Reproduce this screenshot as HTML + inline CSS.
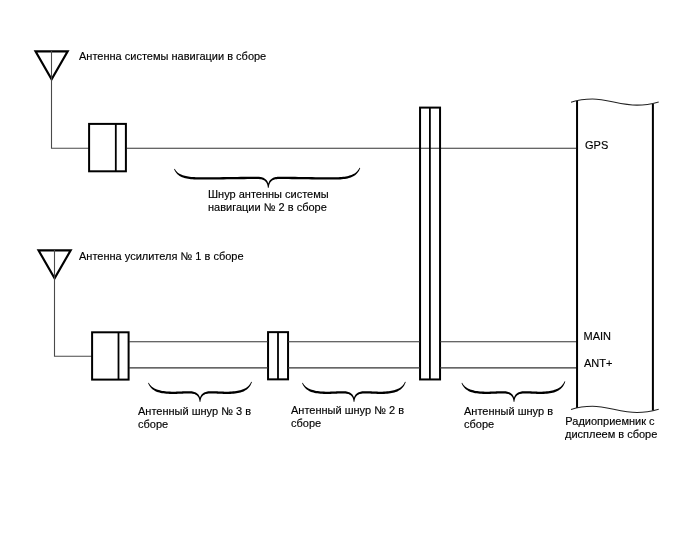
<!DOCTYPE html>
<html><head><meta charset="utf-8">
<style>
html,body{margin:0;padding:0;background:#fff;}
svg{display:block;}
svg text{font-family:"Liberation Sans",sans-serif;font-size:11px;fill:#000;stroke:#000;stroke-width:0.15px;}
</style></head>
<body>
<svg width="688" height="560" viewBox="0 0 688 560">
<rect width="688" height="560" fill="#fff"/>
<g fill="none" stroke="#000" stroke-linejoin="miter">
  <!-- antenna 1 -->
  <path d="M35.5,51.3 L67.7,51.3 L51.6,79.4 Z" stroke-width="2.15"/>
  <path d="M51.5,51 V148.3 H89" stroke="#4a4a4a" stroke-width="1.1"/>
  <!-- box 1 -->
  <rect x="89.1" y="123.9" width="36.8" height="47.4" stroke-width="2"/>
  <line x1="115.8" y1="124" x2="115.8" y2="171" stroke-width="1.8"/>
  <!-- GPS line -->
  <line x1="127" y1="148.3" x2="576" y2="148.3" stroke="#333" stroke-width="1.1"/>
  <!-- tall box -->
  <rect x="420.05" y="107.6" width="20" height="271.85" stroke-width="2"/>
  <line x1="429.9" y1="108" x2="429.9" y2="379" stroke-width="1.8"/>
  <!-- antenna 2 -->
  <path d="M38.5,250.3 L70.7,250.3 L54.6,278.4 Z" stroke-width="2.15"/>
  <path d="M54.5,250 V356.3 H92" stroke="#4a4a4a" stroke-width="1.1"/>
  <!-- box 2 -->
  <rect x="92.1" y="332.3" width="36.5" height="47.3" stroke-width="2"/>
  <line x1="118.5" y1="332.6" x2="118.5" y2="379.4" stroke-width="1.8"/>
  <!-- box 3 -->
  <rect x="268.05" y="332.15" width="20" height="47.2" stroke-width="2"/>
  <line x1="278" y1="332.4" x2="278" y2="379.1" stroke-width="1.8"/>
  <!-- double lines -->
  <g stroke="#333" stroke-width="1.1">
    <line x1="129" y1="341.8" x2="268" y2="341.8"/>
    <line x1="129" y1="367.9" x2="268" y2="367.9"/>
    <line x1="288" y1="341.8" x2="420" y2="341.8"/>
    <line x1="288" y1="367.9" x2="420" y2="367.9"/>
    <line x1="440" y1="341.8" x2="577" y2="341.8"/>
    <line x1="440" y1="367.9" x2="577" y2="367.9"/>
  </g>
  <!-- receiver -->
  <line x1="577.05" y1="101" x2="577.05" y2="408" stroke-width="2"/>
  <line x1="652.9" y1="104" x2="652.9" y2="410.4" stroke-width="2"/>
  <path d="M571,102.2 C578,100 585,99 592.5,99 C607,99 621,105.1 637,105.1 C646,105.1 652.5,103.6 658.7,101.9" stroke="#222" stroke-width="1.05"/>
  <path d="M571,409.5 C578,407.3 585,406.3 592.5,406.3 C607,406.3 621,412.5 637,412.5 C646,412.5 652.5,411 658.7,409.3" stroke="#222" stroke-width="1.05"/>
</g>
<g fill="#000" stroke="none">
  <path d="M174.09,169.15 L174.43,170.00 L174.84,170.81 L175.29,171.60 L175.80,172.36 L176.36,173.08 L176.99,173.77 L177.67,174.43 L178.41,175.05 L179.22,175.63 L180.09,176.18 L181.02,176.69 L182.02,177.17 L183.08,177.61 L184.22,177.97 L185.43,178.28 L186.70,178.55 L188.03,178.79 L189.44,179.00 L190.91,179.17 L192.46,179.31 L194.08,179.41 L195.77,179.49 L197.55,179.54 L199.40,179.55 L203.68,179.54 L207.83,179.53 L211.86,179.50 L215.79,179.47 L219.61,179.43 L223.33,179.39 L226.97,179.35 L230.54,179.30 L234.03,179.25 L237.47,179.21 L240.85,179.17 L244.19,179.13 L247.50,179.10 L250.78,179.07 L254.05,179.06 L257.30,179.05 L258.16,179.06 L258.99,179.09 L259.79,179.15 L260.56,179.24 L261.29,179.37 L262.00,179.53 L262.66,179.74 L263.30,179.98 L263.89,180.27 L264.45,180.61 L264.97,181.00 L265.46,181.44 L265.92,181.96 L266.33,182.54 L266.71,183.20 L267.04,183.94 L267.33,184.77 L267.56,185.69 L267.74,186.70 L267.85,187.83 L268.75,187.77 L268.74,186.61 L268.65,185.52 L268.50,184.49 L268.28,183.53 L267.98,182.64 L267.63,181.82 L267.20,181.06 L266.71,180.36 L266.15,179.73 L265.54,179.17 L264.87,178.67 L264.16,178.24 L263.41,177.87 L262.61,177.56 L261.79,177.30 L260.94,177.10 L260.06,176.95 L259.16,176.84 L258.24,176.77 L257.30,176.75 L254.04,176.76 L250.77,176.77 L247.48,176.80 L244.17,176.83 L240.83,176.87 L237.44,176.91 L234.00,176.95 L230.51,177.00 L226.94,177.05 L223.30,177.09 L219.58,177.13 L215.76,177.17 L211.85,177.20 L207.82,177.23 L203.67,177.24 L199.40,177.25 L197.59,177.24 L195.85,177.19 L194.21,177.12 L192.64,177.01 L191.15,176.88 L189.74,176.72 L188.40,176.52 L187.14,176.30 L185.95,176.04 L184.84,175.76 L183.78,175.46 L182.78,175.17 L181.84,174.85 L180.96,174.49 L180.13,174.10 L179.35,173.68 L178.62,173.22 L177.94,172.72 L177.30,172.18 L176.71,171.60 L176.15,170.98 L175.64,170.32 L175.16,169.61 L174.71,168.85Z M359.58,167.66 L359.13,168.53 L358.65,169.34 L358.13,170.10 L357.57,170.81 L356.97,171.47 L356.33,172.09 L355.64,172.66 L354.91,173.19 L354.13,173.67 L353.30,174.12 L352.42,174.53 L351.48,174.90 L350.48,175.23 L349.43,175.57 L348.32,175.89 L347.13,176.18 L345.88,176.43 L344.54,176.65 L343.14,176.83 L341.65,176.98 L340.09,177.10 L338.44,177.18 L336.71,177.23 L334.90,177.25 L330.80,177.24 L326.82,177.23 L322.95,177.20 L319.19,177.17 L315.52,177.13 L311.95,177.09 L308.45,177.05 L305.03,177.00 L301.67,176.95 L298.37,176.91 L295.12,176.87 L291.91,176.83 L288.73,176.80 L285.57,176.77 L282.43,176.76 L279.30,176.75 L278.36,176.77 L277.44,176.84 L276.54,176.95 L275.66,177.10 L274.81,177.30 L273.99,177.56 L273.19,177.87 L272.44,178.24 L271.73,178.67 L271.06,179.17 L270.45,179.73 L269.89,180.36 L269.40,181.06 L268.97,181.82 L268.62,182.64 L268.32,183.53 L268.10,184.49 L267.95,185.52 L267.86,186.61 L267.85,187.77 L268.75,187.83 L268.86,186.70 L269.04,185.69 L269.27,184.77 L269.56,183.94 L269.89,183.20 L270.27,182.54 L270.68,181.96 L271.14,181.44 L271.63,181.00 L272.15,180.61 L272.71,180.27 L273.30,179.98 L273.94,179.74 L274.60,179.53 L275.31,179.37 L276.04,179.24 L276.81,179.15 L277.61,179.09 L278.44,179.06 L279.30,179.05 L282.42,179.06 L285.56,179.07 L288.71,179.10 L291.88,179.13 L295.09,179.17 L298.34,179.21 L301.64,179.25 L305.00,179.30 L308.42,179.35 L311.92,179.39 L315.50,179.43 L319.16,179.47 L322.93,179.50 L326.80,179.53 L330.79,179.54 L334.90,179.55 L336.76,179.53 L338.53,179.48 L340.23,179.40 L341.85,179.28 L343.40,179.12 L344.88,178.92 L346.29,178.69 L347.63,178.42 L348.91,178.11 L350.12,177.76 L351.26,177.35 L352.32,176.87 L353.32,176.34 L354.25,175.77 L355.12,175.15 L355.93,174.50 L356.67,173.81 L357.34,173.08 L357.96,172.32 L358.52,171.51 L359.03,170.67 L359.48,169.79 L359.87,168.88 L360.22,167.94Z"/>
  <path d="M148.08,382.95 L148.43,383.84 L148.83,384.70 L149.28,385.54 L149.79,386.33 L150.35,387.10 L150.97,387.83 L151.65,388.52 L152.39,389.18 L153.20,389.79 L154.07,390.37 L155.00,390.91 L156.00,391.42 L157.06,391.88 L158.20,392.27 L159.41,392.60 L160.68,392.89 L162.02,393.14 L163.43,393.36 L164.91,393.54 L166.45,393.69 L168.07,393.81 L169.77,393.89 L171.55,393.93 L173.40,393.95 L174.56,393.94 L175.69,393.93 L176.79,393.90 L177.85,393.87 L178.89,393.83 L179.89,393.79 L180.88,393.75 L181.84,393.70 L182.78,393.65 L183.71,393.61 L184.62,393.56 L185.51,393.53 L186.39,393.50 L187.27,393.47 L188.14,393.46 L188.99,393.45 L189.86,393.46 L190.69,393.49 L191.49,393.55 L192.26,393.64 L193.00,393.76 L193.71,393.92 L194.38,394.12 L195.01,394.35 L195.61,394.63 L196.17,394.95 L196.69,395.31 L197.18,395.73 L197.63,396.21 L198.04,396.75 L198.42,397.36 L198.75,398.05 L199.03,398.81 L199.26,399.66 L199.44,400.59 L199.55,401.63 L200.45,401.57 L200.44,400.50 L200.35,399.47 L200.20,398.51 L199.97,397.61 L199.68,396.77 L199.31,395.99 L198.88,395.27 L198.39,394.61 L197.83,394.02 L197.22,393.48 L196.56,393.01 L195.85,392.59 L195.09,392.24 L194.30,391.94 L193.48,391.69 L192.63,391.49 L191.76,391.34 L190.86,391.24 L189.94,391.17 L189.01,391.15 L188.11,391.16 L187.22,391.17 L186.32,391.20 L185.42,391.23 L184.51,391.27 L183.60,391.31 L182.67,391.35 L181.73,391.40 L180.77,391.45 L179.79,391.49 L178.80,391.53 L177.77,391.57 L176.73,391.60 L175.65,391.63 L174.54,391.64 L173.40,391.65 L171.59,391.63 L169.86,391.59 L168.21,391.51 L166.64,391.40 L165.16,391.26 L163.75,391.08 L162.41,390.88 L161.15,390.64 L159.97,390.37 L158.85,390.06 L157.80,389.75 L156.80,389.43 L155.86,389.09 L154.98,388.71 L154.15,388.29 L153.37,387.83 L152.64,387.34 L151.96,386.80 L151.32,386.23 L150.72,385.61 L150.16,384.94 L149.64,384.23 L149.16,383.47 L148.72,382.65Z M251.28,381.66 L250.83,382.57 L250.35,383.41 L249.83,384.21 L249.27,384.95 L248.67,385.64 L248.02,386.28 L247.33,386.88 L246.60,387.43 L245.82,387.93 L244.99,388.40 L244.10,388.82 L243.16,389.21 L242.16,389.56 L241.12,389.91 L240.01,390.24 L238.82,390.54 L237.57,390.80 L236.24,391.03 L234.83,391.22 L233.35,391.37 L231.78,391.50 L230.14,391.58 L228.41,391.63 L226.60,391.65 L225.46,391.64 L224.35,391.63 L223.27,391.60 L222.23,391.57 L221.20,391.53 L220.21,391.49 L219.23,391.45 L218.27,391.40 L217.33,391.35 L216.40,391.31 L215.49,391.27 L214.58,391.23 L213.68,391.20 L212.78,391.17 L211.89,391.16 L210.99,391.15 L210.06,391.17 L209.14,391.24 L208.24,391.34 L207.37,391.49 L206.52,391.69 L205.70,391.94 L204.91,392.24 L204.15,392.59 L203.44,393.01 L202.78,393.48 L202.17,394.02 L201.61,394.61 L201.12,395.27 L200.69,395.99 L200.32,396.77 L200.03,397.61 L199.80,398.51 L199.65,399.47 L199.56,400.50 L199.55,401.57 L200.45,401.63 L200.56,400.59 L200.74,399.66 L200.97,398.81 L201.25,398.05 L201.58,397.36 L201.96,396.75 L202.37,396.21 L202.82,395.73 L203.31,395.31 L203.83,394.95 L204.39,394.63 L204.99,394.35 L205.62,394.12 L206.29,393.92 L207.00,393.76 L207.74,393.64 L208.51,393.55 L209.31,393.49 L210.14,393.46 L211.01,393.45 L211.86,393.46 L212.73,393.47 L213.61,393.50 L214.49,393.53 L215.38,393.56 L216.29,393.61 L217.22,393.65 L218.16,393.70 L219.12,393.75 L220.11,393.79 L221.11,393.83 L222.15,393.87 L223.21,393.90 L224.31,393.93 L225.44,393.94 L226.60,393.95 L228.46,393.93 L230.23,393.88 L231.93,393.79 L233.56,393.67 L235.11,393.50 L236.59,393.30 L238.00,393.06 L239.34,392.78 L240.62,392.46 L241.83,392.10 L242.97,391.67 L244.04,391.16 L245.03,390.62 L245.97,390.03 L246.83,389.40 L247.64,388.72 L248.38,388.01 L249.05,387.25 L249.67,386.46 L250.23,385.63 L250.73,384.76 L251.18,383.85 L251.58,382.91 L251.92,381.94Z"/>
  <path d="M302.08,382.95 L302.43,383.84 L302.83,384.70 L303.28,385.54 L303.79,386.33 L304.35,387.10 L304.97,387.83 L305.65,388.52 L306.39,389.18 L307.20,389.79 L308.07,390.37 L309.00,390.91 L310.00,391.42 L311.06,391.88 L312.20,392.27 L313.41,392.60 L314.68,392.89 L316.02,393.14 L317.43,393.36 L318.91,393.54 L320.45,393.69 L322.07,393.81 L323.77,393.89 L325.55,393.93 L327.40,393.95 L328.56,393.94 L329.69,393.93 L330.79,393.90 L331.85,393.87 L332.89,393.83 L333.89,393.79 L334.88,393.75 L335.84,393.70 L336.78,393.65 L337.71,393.61 L338.62,393.56 L339.51,393.53 L340.39,393.50 L341.27,393.47 L342.14,393.46 L342.99,393.45 L343.86,393.46 L344.69,393.49 L345.49,393.55 L346.26,393.64 L347.00,393.76 L347.71,393.92 L348.38,394.12 L349.01,394.35 L349.61,394.63 L350.17,394.95 L350.69,395.31 L351.18,395.73 L351.63,396.21 L352.04,396.75 L352.42,397.36 L352.75,398.05 L353.03,398.81 L353.26,399.66 L353.44,400.59 L353.55,401.63 L354.45,401.57 L354.44,400.50 L354.35,399.47 L354.20,398.51 L353.97,397.61 L353.68,396.77 L353.31,395.99 L352.88,395.27 L352.39,394.61 L351.83,394.02 L351.22,393.48 L350.56,393.01 L349.85,392.59 L349.09,392.24 L348.30,391.94 L347.48,391.69 L346.63,391.49 L345.76,391.34 L344.86,391.24 L343.94,391.17 L343.01,391.15 L342.11,391.16 L341.22,391.17 L340.32,391.20 L339.42,391.23 L338.51,391.27 L337.60,391.31 L336.67,391.35 L335.73,391.40 L334.77,391.45 L333.79,391.49 L332.80,391.53 L331.77,391.57 L330.73,391.60 L329.65,391.63 L328.54,391.64 L327.40,391.65 L325.59,391.63 L323.86,391.59 L322.21,391.51 L320.64,391.40 L319.16,391.26 L317.75,391.08 L316.41,390.88 L315.15,390.64 L313.97,390.37 L312.85,390.06 L311.80,389.75 L310.80,389.43 L309.86,389.09 L308.98,388.71 L308.15,388.29 L307.37,387.83 L306.64,387.34 L305.96,386.80 L305.32,386.23 L304.72,385.61 L304.16,384.94 L303.64,384.23 L303.16,383.47 L302.72,382.65Z M405.08,381.66 L404.63,382.57 L404.15,383.41 L403.63,384.21 L403.07,384.95 L402.47,385.64 L401.82,386.28 L401.13,386.88 L400.40,387.43 L399.62,387.93 L398.79,388.40 L397.90,388.82 L396.96,389.21 L395.96,389.56 L394.92,389.91 L393.81,390.24 L392.62,390.54 L391.37,390.80 L390.04,391.03 L388.63,391.22 L387.15,391.37 L385.58,391.50 L383.94,391.58 L382.21,391.63 L380.40,391.65 L379.27,391.64 L378.18,391.63 L377.12,391.60 L376.08,391.57 L375.08,391.53 L374.09,391.49 L373.13,391.45 L372.18,391.40 L371.25,391.35 L370.33,391.31 L369.43,391.27 L368.53,391.23 L367.65,391.20 L366.76,391.17 L365.88,391.16 L364.99,391.15 L364.06,391.17 L363.14,391.24 L362.24,391.34 L361.37,391.49 L360.52,391.69 L359.70,391.94 L358.91,392.24 L358.15,392.59 L357.44,393.01 L356.78,393.48 L356.17,394.02 L355.61,394.61 L355.12,395.27 L354.69,395.99 L354.32,396.77 L354.03,397.61 L353.80,398.51 L353.65,399.47 L353.56,400.50 L353.55,401.57 L354.45,401.63 L354.56,400.59 L354.74,399.66 L354.97,398.81 L355.25,398.05 L355.58,397.36 L355.96,396.75 L356.37,396.21 L356.82,395.73 L357.31,395.31 L357.83,394.95 L358.39,394.63 L358.99,394.35 L359.62,394.12 L360.29,393.92 L361.00,393.76 L361.74,393.64 L362.51,393.55 L363.31,393.49 L364.14,393.46 L365.01,393.45 L365.85,393.46 L366.71,393.47 L367.57,393.50 L368.44,393.53 L369.33,393.56 L370.22,393.61 L371.14,393.65 L372.07,393.70 L373.02,393.75 L373.99,393.79 L374.98,393.83 L376.01,393.87 L377.06,393.90 L378.14,393.93 L379.25,393.94 L380.40,393.95 L382.26,393.93 L384.03,393.88 L385.73,393.79 L387.36,393.67 L388.91,393.50 L390.39,393.30 L391.80,393.06 L393.14,392.78 L394.42,392.46 L395.63,392.10 L396.77,391.67 L397.84,391.16 L398.83,390.62 L399.77,390.03 L400.63,389.40 L401.44,388.72 L402.18,388.01 L402.85,387.25 L403.47,386.46 L404.03,385.63 L404.53,384.76 L404.98,383.85 L405.38,382.91 L405.72,381.94Z"/>
  <path d="M461.48,382.95 L461.83,383.84 L462.23,384.70 L462.68,385.54 L463.19,386.33 L463.75,387.10 L464.37,387.83 L465.05,388.52 L465.79,389.18 L466.60,389.79 L467.47,390.37 L468.40,390.91 L469.40,391.42 L470.46,391.88 L471.60,392.27 L472.81,392.60 L474.08,392.89 L475.42,393.14 L476.83,393.36 L478.31,393.54 L479.85,393.69 L481.47,393.81 L483.17,393.89 L484.95,393.93 L486.80,393.95 L488.01,393.94 L489.18,393.93 L490.31,393.90 L491.42,393.87 L492.49,393.83 L493.54,393.79 L494.56,393.75 L495.56,393.70 L496.54,393.65 L497.50,393.61 L498.44,393.56 L499.37,393.53 L500.29,393.50 L501.20,393.47 L502.10,393.46 L502.99,393.45 L503.86,393.46 L504.69,393.49 L505.49,393.55 L506.26,393.64 L507.00,393.76 L507.71,393.92 L508.38,394.12 L509.01,394.35 L509.61,394.63 L510.17,394.95 L510.69,395.31 L511.18,395.73 L511.63,396.21 L512.04,396.75 L512.42,397.36 L512.75,398.05 L513.03,398.81 L513.26,399.66 L513.44,400.59 L513.55,401.63 L514.45,401.57 L514.44,400.50 L514.35,399.47 L514.20,398.51 L513.97,397.61 L513.68,396.77 L513.31,395.99 L512.88,395.27 L512.39,394.61 L511.83,394.02 L511.22,393.48 L510.56,393.01 L509.85,392.59 L509.09,392.24 L508.30,391.94 L507.48,391.69 L506.63,391.49 L505.76,391.34 L504.86,391.24 L503.94,391.17 L503.01,391.15 L502.07,391.16 L501.15,391.17 L500.22,391.20 L499.29,391.23 L498.35,391.27 L497.39,391.31 L496.43,391.35 L495.45,391.40 L494.46,391.45 L493.44,391.49 L492.41,391.53 L491.34,391.57 L490.26,391.60 L489.14,391.63 L487.99,391.64 L486.80,391.65 L484.99,391.63 L483.26,391.59 L481.61,391.51 L480.04,391.40 L478.56,391.26 L477.15,391.08 L475.81,390.88 L474.55,390.64 L473.37,390.37 L472.25,390.06 L471.20,389.75 L470.20,389.43 L469.26,389.09 L468.38,388.71 L467.55,388.29 L466.77,387.83 L466.04,387.34 L465.36,386.80 L464.72,386.23 L464.12,385.61 L463.56,384.94 L463.04,384.23 L462.56,383.47 L462.12,382.65Z M564.68,381.17 L564.23,382.12 L563.75,383.00 L563.22,383.84 L562.66,384.62 L562.06,385.34 L561.41,386.02 L560.72,386.64 L559.99,387.22 L559.20,387.76 L558.37,388.25 L557.49,388.69 L556.55,389.10 L555.55,389.47 L554.50,389.83 L553.39,390.18 L552.21,390.49 L550.96,390.76 L549.63,391.00 L548.23,391.20 L546.74,391.36 L545.18,391.49 L543.54,391.58 L541.81,391.63 L540.00,391.65 L538.90,391.64 L537.84,391.63 L536.80,391.60 L535.80,391.57 L534.82,391.53 L533.86,391.49 L532.92,391.45 L532.00,391.40 L531.09,391.35 L530.20,391.31 L529.32,391.27 L528.44,391.23 L527.58,391.20 L526.72,391.17 L525.86,391.16 L524.99,391.15 L524.06,391.17 L523.14,391.24 L522.24,391.34 L521.37,391.49 L520.52,391.69 L519.70,391.94 L518.91,392.24 L518.15,392.59 L517.44,393.01 L516.78,393.48 L516.17,394.02 L515.61,394.61 L515.12,395.27 L514.69,395.99 L514.32,396.77 L514.03,397.61 L513.80,398.51 L513.65,399.47 L513.56,400.50 L513.55,401.57 L514.45,401.63 L514.56,400.59 L514.74,399.66 L514.97,398.81 L515.25,398.05 L515.58,397.36 L515.96,396.75 L516.37,396.21 L516.82,395.73 L517.31,395.31 L517.83,394.95 L518.39,394.63 L518.99,394.35 L519.62,394.12 L520.29,393.92 L521.00,393.76 L521.74,393.64 L522.51,393.55 L523.31,393.49 L524.14,393.46 L525.01,393.45 L525.83,393.46 L526.66,393.47 L527.50,393.50 L528.35,393.53 L529.21,393.56 L530.08,393.61 L530.97,393.65 L531.88,393.70 L532.80,393.75 L533.75,393.79 L534.72,393.83 L535.72,393.87 L536.74,393.90 L537.80,393.93 L538.88,393.94 L540.00,393.95 L541.86,393.93 L543.63,393.88 L545.34,393.78 L546.96,393.65 L548.51,393.48 L549.99,393.27 L551.41,393.02 L552.75,392.73 L554.03,392.39 L555.24,392.01 L556.39,391.56 L557.45,391.04 L558.45,390.47 L559.38,389.85 L560.25,389.20 L561.05,388.50 L561.79,387.75 L562.46,386.97 L563.08,386.14 L563.64,385.28 L564.14,384.37 L564.58,383.43 L564.98,382.45 L565.32,381.43Z"/>
</g>
<g style="filter:grayscale(1)">
<text x="79" y="60">Антенна системы навигации в сборе</text>
<text x="79" y="260">Антенна усилителя № 1 в сборе</text>
<text x="208" y="198">Шнур антенны системы</text>
<text x="208" y="211">навигации № 2 в сборе</text>
<text x="585" y="148.7">GPS</text>
<text x="583.5" y="340">MAIN</text>
<text x="584" y="367">ANT+</text>
<text x="138" y="415">Антенный шнур № 3 в</text>
<text x="138" y="427.5">сборе</text>
<text x="291" y="413.6">Антенный шнур № 2 в</text>
<text x="291" y="427">сборе</text>
<text x="464" y="415">Антенный шнур в</text>
<text x="464" y="427.5">сборе</text>
<text x="565.3" y="425.3">Радиоприемник с</text>
<text x="565" y="438">дисплеем в сборе</text>
</g>
</svg>
</body></html>
